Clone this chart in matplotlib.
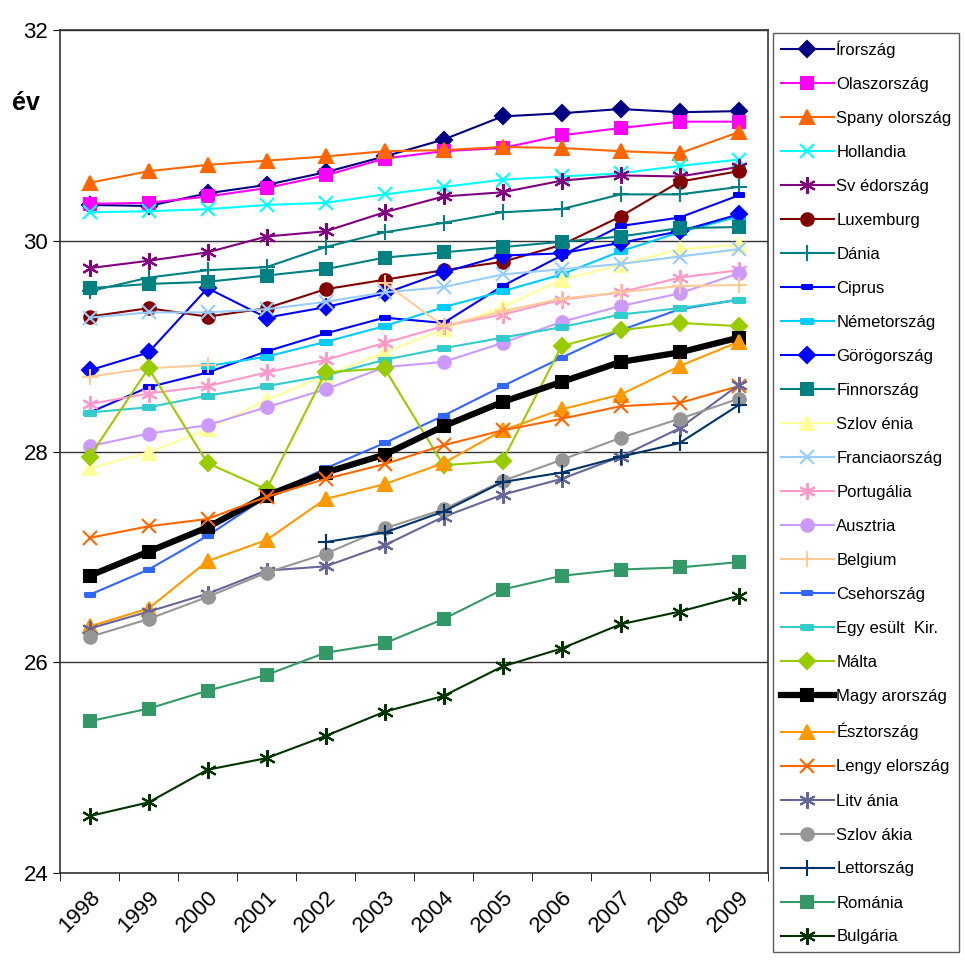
import numpy as np
import matplotlib
matplotlib.use("Agg")
import matplotlib.pyplot as plt

plt.rcParams['font.family'] = ['Liberation Sans', 'DejaVu Sans']

nan = np.nan
years = ["1998", "1999", "2000", "2001", "2002", "2003", "2004", "2005", "2006", "2007", "2008", "2009"]

irorszag = [30.34, 30.33, 30.45, 30.53, 30.65, 30.80, 30.96, 31.18, 31.21, 31.25, 31.22, 31.23]
olaszorszag = [30.35, 30.36, 30.42, 30.50, 30.62, 30.78, 30.85, 30.88, 31.00, 31.07, 31.13, 31.13]
spanyolorszag = [30.55, 30.66, 30.72, 30.76, 30.80, 30.85, 30.86, 30.89, 30.88, 30.85, 30.83, 31.03]
hollandia = [30.27, 30.28, 30.30, 30.34, 30.36, 30.44, 30.51, 30.58, 30.61, 30.64, 30.71, 30.77]
svedorszag = [29.74, 29.81, 29.89, 30.04, 30.09, 30.27, 30.42, 30.46, 30.57, 30.62, 30.61, 30.70]
luxemburg = [29.28, 29.36, 29.28, 29.36, 29.54, 29.63, 29.72, 29.80, 29.96, 30.23, 30.56, 30.66]
dania = [29.52, 29.65, 29.72, 29.75, 29.94, 30.08, 30.17, 30.27, 30.30, 30.44, 30.44, 30.51]
ciprus = [28.37, 28.61, 28.75, 28.95, 29.12, 29.27, 29.22, 29.57, 29.86, 30.14, 30.22, 30.43]
nemetorszag = [nan, nan, 28.81, 28.90, 29.04, 29.19, 29.37, 29.52, 29.68, 29.90, 30.08, 30.23]
gorogorszag = [28.77, 28.94, 29.55, 29.27, 29.37, 29.50, 29.70, 29.86, 29.88, 29.98, 30.09, 30.25]
finnorszag = [29.55, 29.59, 29.61, 29.67, 29.73, 29.84, 29.89, 29.94, 29.99, 30.04, 30.12, 30.13]
szlovenia = [27.84, 27.99, 28.21, 28.49, 28.72, 28.94, 29.16, 29.37, 29.63, 29.77, 29.92, 29.96]
franciaorszag = [29.27, 29.32, 29.32, 29.35, 29.42, 29.51, 29.56, 29.68, 29.73, 29.78, 29.85, 29.92]
portugalia = [28.45, 28.55, 28.62, 28.75, 28.87, 29.03, 29.19, 29.30, 29.44, 29.51, 29.65, 29.72]
ausztria = [28.05, 28.17, 28.25, 28.42, 28.59, 28.80, 28.85, 29.03, 29.23, 29.38, 29.50, 29.69]
belgium = [28.71, 28.79, 28.82, nan, nan, 29.60, 29.19, 29.33, 29.45, 29.51, 29.57, 29.58]
csehorszag = [26.64, 26.88, 27.20, 27.57, 27.84, 28.08, 28.34, 28.62, 28.89, 29.15, 29.35, 29.44]
egyesult_kir = [28.37, 28.42, 28.53, 28.62, 28.72, 28.87, 28.98, 29.08, 29.18, 29.30, 29.36, 29.44]
malta = [27.95, 28.79, 27.89, 27.64, 28.75, 28.79, 27.87, 27.91, 29.00, 29.15, 29.22, 29.19]
magyarorszag = [26.82, 27.05, 27.28, 27.58, 27.80, 27.97, 28.24, 28.47, 28.66, 28.85, 28.94, 29.08]
esztorszag = [26.34, 26.51, 26.96, 27.16, 27.55, 27.69, 27.89, 28.20, 28.40, 28.54, 28.81, 29.04]
lengyelorszag = [27.18, 27.29, 27.36, 27.57, 27.74, 27.88, 28.06, 28.20, 28.31, 28.43, 28.46, 28.62]
litvania = [26.32, 26.48, 26.65, 26.87, 26.91, 27.11, 27.38, 27.59, 27.74, 27.95, 28.22, 28.63]
szlovakia = [26.24, 26.41, 26.62, 26.85, 27.03, 27.27, 27.45, 27.72, 27.92, 28.13, 28.31, 28.50]
lettorszag = [nan, nan, nan, nan, 27.14, 27.23, 27.43, 27.71, 27.80, 27.95, 28.08, 28.44]
romania = [25.44, 25.56, 25.73, 25.88, 26.09, 26.18, 26.41, 26.69, 26.82, 26.88, 26.90, 26.95]
bulgaria = [24.54, 24.67, 24.98, 25.09, 25.30, 25.53, 25.68, 25.96, 26.13, 26.36, 26.48, 26.63]

dash = [(-1, -0.45), (1, -0.45), (1, 0.45), (-1, 0.45), (-1, -0.45)]
star = (6, 2, 0)

# label, data, colour, marker, markersize, linewidth
series = [
    ("Írország", irorszag, "#000080", "D", 8, 1.5),
    ("Olaszország", olaszorszag, "#FF00FF", "s", 9, 1.5),
    ("Spany olország", spanyolorszag, "#FF6600", "^", 10, 1.5),
    ("Hollandia", hollandia, "#00FFFF", "x", 10, 1.5),
    ("Sv édország", svedorszag, "#800080", star, 12, 1.5),
    ("Luxemburg", luxemburg, "#800000", "o", 9, 1.5),
    ("Dánia", dania, "#008080", "+", 12, 1.5),
    ("Ciprus", ciprus, "#0000FF", dash, 7, 1.5),
    ("Németország", nemetorszag, "#00CCFF", dash, 8, 1.5),
    ("Görögország", gorogorszag, "#0000FF", "D", 8, 1.5),
    ("Finnország", finnorszag, "#008080", "s", 9, 1.5),
    ("Szlov énia", szlovenia, "#FFFF99", "^", 10, 1.5),
    ("Franciaország", franciaorszag, "#99CCFF", "x", 10, 1.5),
    ("Portugália", portugalia, "#FF99CC", star, 12, 1.5),
    ("Ausztria", ausztria, "#CC99FF", "o", 9, 1.5),
    ("Belgium", belgium, "#FFCC99", "+", 12, 1.5),
    ("Csehország", csehorszag, "#3366FF", dash, 7, 1.5),
    ("Egy esült  Kir.", egyesult_kir, "#33CCCC", dash, 8, 1.5),
    ("Málta", malta, "#99CC00", "D", 8, 1.5),
    ("Magy arország", magyarorszag, "#000000", "s", 9, 4.5),
    ("Észtország", esztorszag, "#FF9900", "^", 10, 1.5),
    ("Lengy elország", lengyelorszag, "#FF6600", "x", 10, 1.5),
    ("Litv ánia", litvania, "#666699", star, 12, 1.5),
    ("Szlov ákia", szlovakia, "#969696", "o", 9, 1.5),
    ("Lettország", lettorszag, "#003366", "+", 12, 1.5),
    ("Románia", romania, "#339966", "s", 9, 1.5),
    ("Bulgária", bulgaria, "#003300", star, 12, 1.5),
]

fig = plt.figure(figsize=(9.65, 9.61), dpi=100)
ax = fig.add_axes([60 / 965, 88 / 961, 708 / 965, 843 / 961])

x = np.arange(len(years))
handles = []
for label, vals, col, mk, ms, lw in series:
    h, = ax.plot(x, vals, color=col, marker=mk, markersize=ms, linewidth=lw,
                 markerfacecolor=col, markeredgecolor=col, markeredgewidth=1.5,
                 label=label)
    handles.append(h)

ax.set_xlim(-0.5, 11.5)
ax.set_ylim(24, 32)
ax.set_yticks([24, 26, 28, 30, 32])
ax.yaxis.grid(True, color="#333333", linewidth=1)
ax.set_axisbelow(True)
ax.tick_params(axis="y", labelsize=16, length=5, direction="out")

ax.set_xticks(x)
ax.set_xticklabels(years, rotation=45, ha="right", va="top",
                   rotation_mode="anchor", fontsize=16)
ax.tick_params(axis="x", which="major", length=0, pad=10)
ax.set_xticks(np.arange(-0.5, 12, 1), minor=True)
ax.tick_params(axis="x", which="minor", length=6, direction="out")
for sp in ax.spines.values():
    sp.set_color("#333333")
    sp.set_linewidth(1.2)

fig.text(12 / 965, 1 - 103 / 961, "év", fontsize=18, fontweight="bold", va="center")

leg = fig.legend(handles=handles, loc="upper left",
                 bbox_to_anchor=(773 / 965, 1 - 33 / 961),
                 fontsize=12, frameon=True, fancybox=False,
                 edgecolor="#333333", handlelength=3.2, labelspacing=1.14,
                 borderpad=0.45, handletextpad=0.15, borderaxespad=0)
leg.get_frame().set_linewidth(1)

fig.savefig("out.png", dpi=100)
